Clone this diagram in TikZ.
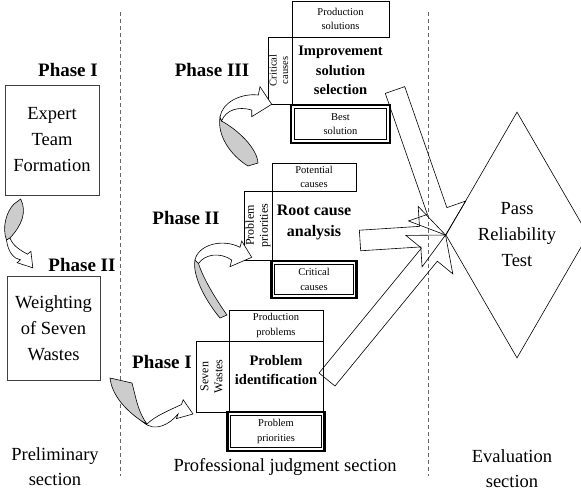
\documentclass[tikz,border=0pt]{standalone}
\usepackage{fontspec}
\setmainfont{Liberation Serif}
\usetikzlibrary{shapes,arrows,positioning,calc}

\newcommand{\vlabel}[1]{\rotatebox{90}{\begin{tabular}{@{}c@{}}#1\end{tabular}}}

\begin{document}
\begin{tikzpicture}[x=1pt,y=-1pt,
  box/.style={rectangle, draw=black!75, line width=0.7pt, outer sep=0pt, inner sep=0pt, align=center, font=\fontsize{18.5}{26}\selectfont},
  phase/.style={inner sep=0pt, font=\fontsize{19}{22}\selectfont\bfseries},
  section/.style={inner sep=0pt, align=center, font=\fontsize{18.5}{25}\selectfont},
  cell/.style={rectangle, draw=black, line width=0.6pt, outer sep=0pt, inner sep=0pt, align=center, font=\fontsize{10.5}{14.5}\selectfont},
  core/.style={rectangle, outer sep=0pt, inner sep=0pt, align=center, font=\fontsize{14.5}{19.5}\selectfont\bfseries},
  outbox/.style={cell, line width=2.2pt, path picture={\draw[line width=0.7pt] ([shift={(3.2pt,-3.2pt)}]path picture bounding box.north west) rectangle ([shift={(-3.2pt,3.2pt)}]path picture bounding box.south east);}},
  decision/.style={diamond, draw=black, line width=0.6pt, inner sep=0pt, minimum width=128pt, minimum height=246pt, align=center, font=\fontsize{18.5}{26}\selectfont},
  bigarrow/.style={single arrow, draw=black, line width=0.6pt, inner xsep=0pt, inner ysep=10pt, outer sep=0pt, single arrow head extend=20pt, single arrow tip angle=100, anchor=tip},
  ribbon/.style={draw=black, fill=gray!40, line width=0.6pt},
  curl/.style={draw=black, fill=white, line width=0.6pt},
  sep/.style={draw=black!60, line width=0.6pt, dash pattern=on 4pt off 3pt}]
\useasboundingbox (0,0) rectangle (581,493);

% section borders
\draw[sep] (120,12) -- (120,476);
\draw[sep] (428,12) -- (428,476);

% preliminary section
\node [phase] (phIa) at (68,70) {Phase I};
\node [box, minimum width=94pt, minimum height=110pt] (expert) at (52,140) {Expert\\Team\\Formation};
\node [phase] (phIIa) at (82,265) {Phase II};
\node [box, minimum width=93pt, minimum height=104pt] (weight) at (53.5,328) {Weighting\\of Seven\\Wastes};
\node [section] (prelim) at (55,467) {Preliminary\\section};

% professional judgment section
\node [phase] (phIII) at (212,70) {Phase III};
\node [core, minimum width=97pt, minimum height=67pt] (iss) at (340.5,70.5) {Improvement\\solution\\selection};
\node [cell, left=0pt of iss, minimum width=24pt, minimum height=67pt, font=\fontsize{10.5}{11.5}\selectfont] (issin) {\vlabel{Critical\\causes}};
\node [cell, above=0pt of iss, minimum width=97pt, minimum height=36pt] (isstop) {Production\\solutions};
\node [outbox, below=1pt of iss, minimum width=99pt, minimum height=38pt] (issout) {Best\\solution};

\node [phase] (phII) at (186,218) {Phase II};
\node [core, minimum width=84pt, minimum height=69pt, text depth=10pt, font=\fontsize{16}{21}\selectfont\bfseries] (rca) at (314,225.5) {Root cause\\analysis};
\node [cell, left=0pt of rca, minimum width=25pt, minimum height=69pt, font=\fontsize{12}{14}\selectfont] (rcain) {\vlabel{Problem\\priorities}};
\node [cell, above=0pt of rca, minimum width=84pt, minimum height=28pt] (rcatop) {Potential\\causes};
\node [outbox, below=1pt of rca, minimum width=85pt, minimum height=37pt] (rcaout) {Critical\\causes};

\node [phase] (phIb) at (162,362) {Phase I};
\node [core, draw=black, line width=0.6pt, minimum width=94pt, minimum height=71pt, text depth=13pt] (pid) at (276,376.5) {Problem\\identification};
\node [cell, left=0pt of pid, minimum width=33pt, minimum height=71pt, font=\fontsize{12}{14}\selectfont] (pidin) {\vlabel{Seven\\Wastes}};
\node [cell, above=0pt of pid, minimum width=94pt, minimum height=31pt] (pidtop) {Production\\problems};
\node [outbox, below=0pt of pid, minimum width=97pt, minimum height=39pt] (pidout) {Problem\\priorities};
\node [section] (prof) at (285,467) {Professional judgment section};

% evaluation section
\node [decision] (test) at (517,235) {Pass\\Reliability\\Test};
\node [section] (eval) at (512,469) {Evaluation\\section};

% curved arrows between phases
\draw[ribbon] (14,204) -- (20.7,199) .. controls (27,212) and (22,225) .. (10,238) -- (6.5,240) .. controls (2,228) and (6,212) .. cycle;
\draw[curl] (6.5,240) .. controls (8,252) and (14,259) .. (20.5,259.8) -- (17.1,262.7) -- (32.8,267.8) -- (30.9,251.3) -- (27.5,254.2) .. controls (20,250) and (13,246) .. (10,238) -- cycle;

\draw[ribbon] (110,378) -- (132,383) .. controls (136,398) and (138,412) .. (147,424) -- (143,422) .. controls (125,410) and (112,395) .. cycle;
\draw[curl] (143,422) .. controls (155,433) and (170,424) .. (178.1,413.9) -- (176.4,418.6) -- (193,414) -- (183.2,399.8) -- (181.5,404.5) .. controls (170,410) and (155,416) .. (147,424) -- cycle;

\draw[ribbon] (195,260) .. controls (192,275) and (205,300) .. (220,318) -- (227,315) .. controls (215,298) and (203,278) .. (198.5,263.5) -- cycle;
\draw[curl] (195,260) .. controls (198,245) and (222,238) .. (240,247.3) -- (241.7,241) -- (251.7,257.3) -- (230,266.7) -- (231.7,260) .. controls (220,252) and (205,254) .. (198.5,263.5) -- cycle;

\draw[ribbon] (220,117) .. controls (217,135) and (230,155) .. (248,166) -- (258,163) .. controls (257,148) and (238,130) .. (221.5,121) -- cycle;
\draw[curl] (220,117) .. controls (222,103) and (240,93) .. (258.3,95) -- (260,86.7) -- (271.7,104.3) -- (251.7,116.7) -- (251.7,110) .. controls (238,106) and (226,110) .. (221.5,121) -- cycle;

% block arrows into the test
\coordinate (isstail) at ($(iss.east)+(6,19.5)$);
\coordinate (rcatail) at ($(rca.east)+(4,15)$);
\coordinate (pidtail) at ($(pid.east)+(4,3)$);
\path let \p1=($(test.west)-(isstail)$), \n1={atan2(\y1,\x1)}, \n2={veclen(\x1,\y1)} in
  node [bigarrow, rotate=\n1, minimum height=\n2] (arrIII) at (test.west) {};
\path let \p1=($(test.west)-(rcatail)$), \n1={atan2(\y1,\x1)}, \n2={veclen(\x1,\y1)} in
  node [bigarrow, rotate=\n1, minimum height=\n2] (arrII) at (test.west) {};
\path let \p1=($(test.west)-(pidtail)$), \n1={atan2(\y1,\x1)}, \n2={veclen(\x1,\y1)} in
  node [bigarrow, rotate=\n1, minimum height=\n2] (arrI) at (test.west) {};
\end{tikzpicture}
\end{document}
